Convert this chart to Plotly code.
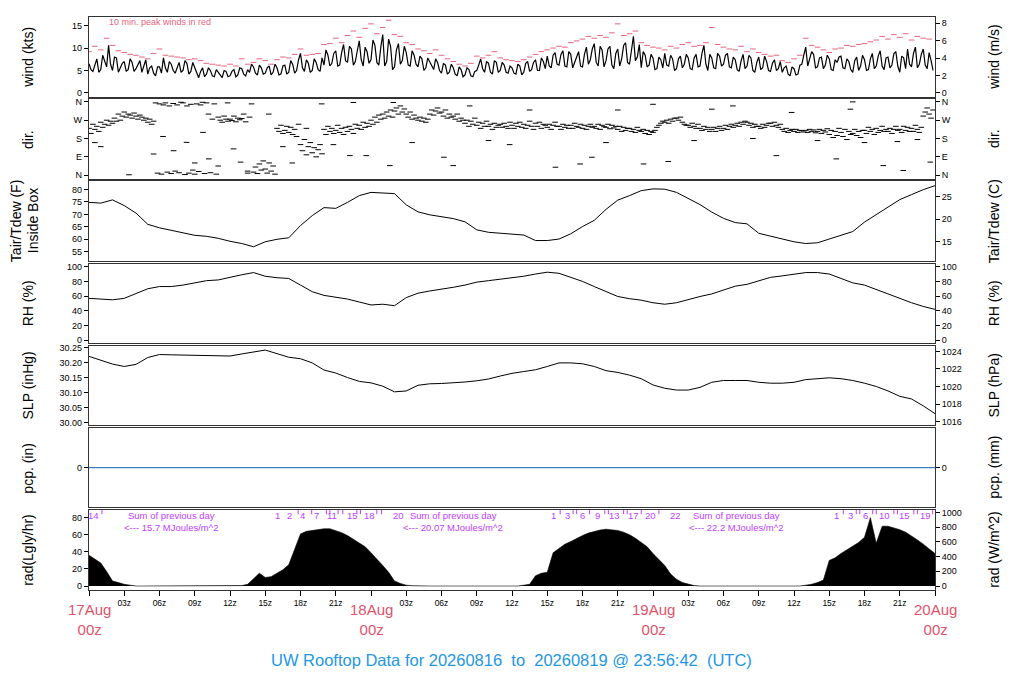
"""UW rooftop station: 3-day multi-panel plot (wind, direction, temperature,
RH, pressure, precipitation, solar radiation), redrawn with Plotly.
"""

import plotly.graph_objects as go

FONT = "Liberation Sans, Arial, sans-serif"
RED = "#DF536B"
PINK = "#E8647E"
PURPLE = "#BF3EFF"
BLUE = "#2297E6"
FRAME = "#333333"

# time axis: hours since 17 Aug 00z
WIND_STEP = 1 / 3   # wind speed, two interleaved 20-min series (10-min apart)
PEAK_STEP = 0.5     # 10-min peak, plotted every half hour
DIR_STEP = 1 / 6    # 10-min direction
RAD_STEP = 0.5

wind_kts_a = [
    6.5, 4.8, 7.6, 5.2, 7.0, 10.6, 5.0, 7.8, 5.6, 7.0, 5.2, 6.8, 5.4, 7.2, 5.8, 4.2, 6.0, 3.8,
    5.8, 7.8, 4.6, 6.4, 4.4, 6.8, 5.0, 6.6, 4.8, 5.8, 3.4, 5.6, 4.2, 5.0, 3.6, 4.6, 3.4, 4.8,
    3.8, 5.2, 4.0, 5.4, 3.8, 4.6, 5.8, 4.0, 5.6, 4.4, 6.0, 4.6, 5.6, 4.2, 6.2, 4.6, 6.4, 5.0,
    8.8, 4.8, 6.6, 5.0, 6.8, 4.8, 6.2, 8.4, 6.6, 9.4, 6.2, 10.8, 6.8, 9.8, 7.0, 11.6, 6.0, 9.2,
    7.4, 10.6, 6.2, 13.0, 7.0, 10.4, 5.8, 11.0, 7.2, 9.0, 6.0, 8.4, 5.8, 7.6, 5.6, 7.0, 5.2, 6.8,
    4.4, 6.2, 4.6, 5.6, 3.8, 5.2, 4.0, 5.2, 3.6, 5.0, 7.6, 4.6, 6.6, 4.2, 6.8, 5.0, 6.2, 4.4,
    5.6, 4.2, 6.0, 4.6, 7.0, 5.2, 7.4, 5.0, 7.0, 8.2, 5.6, 9.0, 6.2, 9.4, 5.8, 8.6, 6.6, 9.2,
    5.8, 10.2, 7.4, 11.0, 6.0, 9.6, 7.2, 10.4, 5.4, 9.8, 7.6, 11.2, 6.4, 12.6, 8.0, 5.6, 8.4, 6.2,
    7.8, 5.4, 7.4, 8.8, 6.0, 7.6, 5.4, 8.2, 6.4, 7.8, 5.2, 8.6, 6.0, 10.6, 5.0, 7.8, 5.4, 8.2,
    6.4, 8.8, 5.6, 7.4, 4.8, 8.6, 6.0, 7.8, 4.6, 8.0, 5.6, 7.0, 4.8, 7.4, 5.4, 4.6, 6.0, 3.8,
    5.4, 4.2, 6.4, 10.2, 7.4, 8.6, 5.8, 8.0, 6.2, 7.6, 5.0, 6.8, 8.2, 5.4, 7.0, 4.6, 8.0, 6.0,
    7.4, 5.2, 8.8, 6.0, 9.4, 5.2, 8.0, 6.2, 9.2, 4.6, 7.8, 9.8, 5.8, 10.2, 6.4, 9.8, 5.4, 7.2,
]
wind_kts_b = [
    5.2, 6.2, 4.6, 8.4, 5.8, 6.4, 8.0, 4.6, 6.6, 4.8, 7.6, 4.8, 6.4, 4.6, 7.4, 5.6, 4.4, 5.8,
    4.4, 5.6, 7.0, 5.0, 5.8, 4.6, 7.2, 4.2, 6.8, 4.4, 4.8, 3.6, 5.6, 3.8, 5.2, 3.8, 5.0, 3.6,
    4.8, 3.6, 5.6, 4.2, 5.2, 6.4, 4.4, 6.2, 4.2, 5.6, 4.0, 6.4, 4.0, 6.0, 4.2, 7.2, 4.4, 7.4,
    5.6, 7.4, 4.6, 7.6, 5.2, 7.8, 9.6, 6.0, 8.8, 6.0, 9.0, 7.2, 10.4, 6.2, 9.4, 7.4, 10.2, 6.6,
    11.8, 6.8, 10.2, 6.0, 12.0, 5.2, 9.6, 6.4, 10.4, 6.2, 9.4, 6.4, 8.2, 5.0, 7.8, 6.0, 7.6, 5.0,
    6.6, 4.2, 6.4, 4.2, 5.8, 3.6, 5.6, 3.8, 4.8, 6.2, 5.4, 7.0, 4.6, 7.2, 4.6, 6.8, 4.6, 6.0,
    4.4, 6.4, 4.0, 6.6, 4.8, 6.8, 5.0, 7.8, 5.4, 6.0, 8.4, 6.4, 8.6, 6.0, 9.2, 5.6, 8.0, 6.0,
    8.6, 6.4, 9.8, 6.8, 10.4, 5.8, 9.8, 6.2, 8.8, 6.0, 10.6, 6.8, 10.2, 7.2, 10.8, 9.2, 5.8, 8.6,
    5.2, 8.0, 5.6, 6.2, 8.4, 5.0, 7.6, 5.6, 8.6, 5.4, 7.8, 5.8, 8.8, 6.4, 8.6, 5.6, 8.8, 6.0,
    8.4, 5.8, 8.0, 5.2, 7.2, 5.4, 8.4, 5.0, 6.8, 5.2, 8.2, 5.0, 6.6, 5.0, 7.0, 5.6, 4.2, 5.8,
    4.0, 6.2, 8.4, 6.0, 9.2, 5.6, 7.8, 5.4, 8.4, 5.2, 7.4, 8.0, 5.6, 7.6, 5.2, 7.2, 5.0, 8.4,
    5.0, 7.6, 5.4, 8.2, 6.0, 7.8, 5.6, 8.8, 6.0, 8.2, 5.4, 6.4, 8.8, 5.6, 8.6, 6.2, 9.0, 5.0,
]

peak_kts = [
    9.2, 10.4, 9.6, 12.2, 10.6, 9.4, 9.0, 8.6, 8.4, 8.0, 7.6, 8.8,
    9.8, 8.4, 8.2, 8.0, 7.8, 7.4, 7.6, 7.2, 6.6, 6.4, 6.2, 6.0,
    6.4, 6.0, 7.6, 6.4, 6.8, 7.6, 7.2, 6.4, 7.4, 8.0, 7.8, 8.6,
    9.8, 8.4, 8.6, 8.8, 10.8, 11.0, 12.2, 11.2, 12.8, 13.8, 12.4, 14.4,
    15.4, 13.2, 14.6, 16.2, 13.0, 12.6, 11.2, 10.8, 9.8, 9.4, 8.8, 9.6,
    8.4, 7.6, 7.0, 6.4, 6.0, 6.6, 8.2, 7.8, 8.4, 9.2, 7.8, 7.4,
    7.2, 7.0, 7.4, 8.0, 8.6, 9.2, 9.6, 10.0, 10.4, 10.2, 11.2, 11.6,
    12.0, 12.6, 12.2, 12.8, 12.4, 13.4, 15.4, 12.8, 13.2, 13.8, 11.2, 10.6,
    10.2, 10.0, 9.6, 10.4, 10.0, 10.8, 11.2, 10.4, 10.6, 11.2, 14.6, 10.8,
    10.2, 9.8, 9.6, 10.4, 9.2, 9.8, 9.0, 8.6, 8.2, 8.4, 7.2, 6.8,
    7.6, 8.4, 12.2, 10.6, 10.2, 9.6, 9.0, 9.8, 10.0, 10.6, 10.4, 10.8,
    11.0, 11.4, 11.8, 12.6, 12.0, 13.0, 12.4, 13.2, 11.8, 12.6, 12.2, 12.0,
]

wind_dir = [
    230, 205, 250, 225, 240, 215, 260, 235, 250, 270, 245, 265, 255, 280, 265, 300, 270, 290,
    310, 285, 300, 295, 280, 305, 290, 275, 295, 285, 270, 280, 260, 275, 250, 265, 355, 10,
    350, 5, 345, 355, 15, 340, 8, 352, 20, 345, 12, 358, 355, 3, 340, 10, 348, 25,
    5, 350, 18, 345, 358, 8, 355, 300, 12, 275, 350, 5, 285, 270, 260, 290, 275, 265,
    275, 268, 290, 262, 280, 272, 278, 300, 262, 10, 285, 350, 15, 40, 8, 55, 25, 70,
    30, 10, 60, 20, 45, 5, 230, 215, 245, 205, 220, 240, 210, 235, 200, 225, 190, 250,
    150, 120, 175, 100, 140, 160, 110, 135, 90, 125, 150, 105, 225, 200, 240, 215, 230, 205,
    220, 245, 210, 230, 200, 235, 215, 240, 225, 205, 250, 230, 245, 225, 260, 235, 255, 240,
    270, 250, 285, 260, 295, 275, 300, 280, 310, 290, 320, 285, 315, 330, 300, 340, 310, 325,
    300, 285, 310, 275, 295, 280, 270, 285, 265, 280, 260, 275, 300, 320, 295, 315, 330, 305,
    310, 290, 320, 280, 300, 285, 290, 275, 300, 265, 280, 270, 255, 270, 240, 265, 250, 280,
    245, 260, 230, 255, 240, 265, 240, 250, 225, 255, 235, 245, 250, 235, 255, 240, 230, 260,
    245, 230, 255, 240, 260, 235, 250, 230, 245, 265, 240, 225, 255, 240, 260, 230, 250, 245,
    235, 250, 225, 245, 260, 240, 240, 225, 250, 235, 245, 230, 245, 230, 255, 240, 235, 250,
    230, 245, 225, 240, 250, 235, 240, 230, 250, 225, 245, 238, 235, 250, 228, 245, 232, 240,
    225, 240, 215, 235, 220, 230, 230, 215, 225, 210, 235, 220, 215, 225, 205, 220, 200, 215,
    210, 220, 235, 245, 255, 265, 260, 270, 255, 275, 265, 280, 280, 270, 285, 260, 250, 245,
    245, 235, 255, 240, 230, 250, 230, 220, 240, 225, 235, 215, 225, 235, 215, 230, 240, 220,
    230, 245, 225, 240, 250, 235, 245, 255, 240, 260, 250, 265, 260, 245, 255, 235, 250, 240,
    240, 230, 250, 235, 245, 255, 255, 240, 260, 245, 235, 250, 225, 215, 230, 210, 220, 225,
    215, 225, 210, 220, 218, 212, 220, 210, 225, 215, 222, 208, 215, 225, 205, 220, 212, 228,
    200, 220, 185, 215, 195, 230, 210, 190, 225, 175, 215, 200, 205, 225, 195, 215, 185, 220,
    220, 205, 235, 215, 225, 200, 230, 210, 220, 240, 215, 225, 215, 230, 205, 225, 240, 220,
    225, 210, 240, 220, 235, 215, 230, 215, 245, 225, 210, 235, 290, 310, 330, 300, 280, 320,
]

# stray direction readings off the main band
dir_extra_t = [0.5, 1.0, 3.4, 5.5, 6.3, 7.2, 8.3, 9.0, 9.7, 10.2, 11.0, 11.8, 12.3, 12.9,
               13.5, 15.3, 16.5, 17.3, 18.5, 19.8, 20.8, 22.2, 22.5, 23.6, 25.6, 25.9, 27.5,
               30.2, 31.0, 32.4, 34.0, 35.8, 37.5, 39.7, 41.8, 42.8, 44.0, 45.0, 47.2, 48.0,
               49.3, 51.5, 53.0, 54.8, 56.5, 58.5, 59.8, 62.0, 63.6, 64.8, 65.0, 66.0, 67.6,
               68.8, 69.3, 70.5, 71.6]
dir_extra = [160, 140, 2, 104, 190, 120, 161, 60, 210, 80, 45, 355, 129, 64,
             20, 300, 140, 60, 230, 350, 150, 96, 357, 96, 47, 357, 160,
             88, 47, 340, 170, 150, 320, 39, 55, 88, 160, 320, 55, 348,
             67, 170, 324, 340, 180, 96, 308, 170, 80, 324, 360, 160, 47,
             165, 23, 175, 64]

# hourly, 17Aug 00z .. 20Aug 00z
tair_f = [74.8, 74.5, 75.8, 73.5, 70.5, 66.0, 64.6, 63.6, 62.6, 61.6, 61.2, 60.4, 59.2,
          58.3, 57.0, 59.0, 60.0, 60.6, 65.5, 69.5, 72.7, 72.4, 74.8, 77.5, 78.8, 78.4,
          78.3, 73.8, 71.0, 69.8, 69.2, 68.3, 67.0, 63.8, 62.8, 62.4, 62.0, 61.7, 59.5,
          59.5, 60.1, 62.2, 65.1, 67.6, 72.0, 75.7, 77.5, 79.5, 80.2, 80.1, 78.8, 76.3,
          73.9, 70.9, 68.4, 66.7, 66.2, 62.4, 61.2, 60.3, 59.0, 58.3, 58.6, 60.1, 61.7,
          63.1, 66.9, 69.8, 73.0, 75.9, 77.9, 79.9, 81.5]

rh_pct = [57, 56, 55, 57, 63, 70, 73, 73, 75, 78, 81, 82, 86, 89, 92, 87, 85, 84, 75,
          66, 61, 59, 56, 52, 48, 49, 47, 58, 64, 67, 69, 72, 75, 79, 81, 83, 84,
          87, 90, 92.5, 91, 86, 80, 73, 66, 59.5, 56.5, 54.5, 51, 49, 51, 55.5, 59.5,
          63, 68, 73.5, 76, 81, 85.5, 87.5, 90, 92, 92, 90, 84, 78, 75, 69, 62, 57,
          51, 46, 42]

slp_inhg = [30.222, 30.208, 30.196, 30.188, 30.195, 30.218, 30.228, 30.227, 30.226,
            30.227, 30.225, 30.224, 30.223, 30.230, 30.236, 30.243, 30.231, 30.219,
            30.214, 30.200, 30.176, 30.166, 30.151, 30.138, 30.133, 30.122, 30.103,
            30.106, 30.125, 30.130, 30.131, 30.133, 30.136, 30.140, 30.146, 30.156,
            30.165, 30.171, 30.177, 30.188, 30.200, 30.200, 30.197, 30.188, 30.174,
            30.168, 30.159, 30.147, 30.126, 30.115, 30.109, 30.109, 30.118, 30.135,
            30.141, 30.141, 30.141, 30.135, 30.132, 30.132, 30.135, 30.144, 30.147,
            30.150, 30.147, 30.141, 30.132, 30.121, 30.106, 30.088, 30.079, 30.056,
            30.030]

pcp_t = [0.0, 72.0]
pcp_in = [0.0, 0.0]

# half-hourly solar radiation, Langley/hr
rad_ly = [
    36, 32, 27, 17, 6, 4, 2, 1, 0,
    0, 0, 0, 0, 0, 0, 0, 0, 0, 0, 0, 0, 0, 0, 0, 0,
    0, 0.5, 2, 9, 15, 10, 11, 15, 19, 25, 44, 61, 64, 65, 66, 67, 67, 65, 62.5, 59, 55,
    51, 46, 39, 32, 24, 16, 6, 3, 1, 0.3,
    0, 0, 0, 0, 0, 0, 0, 0, 0, 0, 0, 0, 0, 0, 0, 0, 0, 0,
    1, 2, 12, 15, 16, 39, 44, 49, 52, 56, 59, 62, 64, 65.5, 66.5, 66, 65, 63, 60, 56,
    51, 46, 38, 31, 24, 14, 8, 4, 2, 0.5,
    0, 0, 0, 0, 0, 0, 0, 0, 0, 0, 0, 0, 0, 0, 0, 0, 0, 0,
    1, 2, 4, 7, 30, 33, 38, 42, 47, 51, 57, 80, 50, 70, 70, 68, 66, 63, 59, 54, 49, 44, 38,
]

# daily radiation annotations
mj_labels = ["14", "1", "2", "4", "7", "11", "15", "18", "20",
             "1", "3", "6", "9", "13", "17", "20", "22",
             "1", "3", "6", "10", "15", "19"]
mj_label_t = [0.35, 16.0, 17.1, 18.2, 19.4, 20.7, 22.4, 23.9, 26.3,
              39.5, 40.7, 42.0, 43.3, 44.7, 46.3, 47.8, 49.9,
              63.6, 64.8, 66.1, 67.7, 69.4, 71.2]
mj_tick_t = [1.1, 17.8, 18.95, 20.2, 20.5, 21.2, 21.6, 22.8, 23.1, 24.5, 24.9,
             40.1, 41.2, 41.5, 42.6, 43.9, 44.2, 45.5, 45.8, 47.0, 48.5,
             64.2, 65.3, 65.6, 66.7, 67.0, 68.5, 68.8, 70.2, 70.5, 71.8]
day_totals = ["15.7", "20.07", "22.2"]
day_total_t = [7.0, 31.0, 55.1]

day_ticks = [0, 24, 48, 72]
day_labels = ["17Aug", "18Aug", "19Aug", "20Aug"]
hour_ticks = list(range(0, 73, 3))

DIR_LABELS = ["N", "E", "S", "W", "N"]

# pixel geometry of the original page (the html body adds an 8 px offset)
PAGE_OFF = 8
LEFT, RIGHT, TOP, BOTTOM = 89, 935, 14, 590
PANEL_H, PANEL_STEP = 80, 82.6


def xpaper(px):
    return (px - LEFT) / (RIGHT - LEFT)


def ypaper(py):
    return (BOTTOM - py) / (BOTTOM - TOP)


def ax(prefix, n):
    return prefix if n == 1 else f"{prefix}{n}"


def note(text, x, y, size, color, xref="paper", angle=0, xanchor="center", yanchor="middle"):
    return dict(text=text, x=x, y=y, xref=xref, yref="paper", textangle=angle,
                xanchor=xanchor, yanchor=yanchor, showarrow=False,
                font=dict(family=FONT, size=size, color=color))


PANELS = [
    dict(left=["wind (kts)"], right="wind (m/s)", rng=[-0.82, 16.93], ticks=[0, 5, 10, 15],
         conv=lambda v: v / 1.94384, rticks=[0, 2, 4, 6, 8]),
    dict(left=["dir."], right="dir.", rng=[-17.6, 373.2], ticks=[0, 90, 180, 270, 360],
         labels=DIR_LABELS, conv=lambda v: v, rticks=[0, 90, 180, 270, 360], rlabels=DIR_LABELS),
    dict(left=["Tair/Tdew (F)", "Inside Box"], right="Tair/Tdew (C)", rng=[51.33, 83.23],
         ticks=[55, 60, 65, 70, 75, 80], conv=lambda v: (v - 32) / 1.8, rticks=[15, 20, 25]),
    dict(left=["RH (%)"], right="RH (%)", rng=[-3.8, 104.3], ticks=[0, 20, 40, 60, 80, 100],
         conv=lambda v: v, rticks=[0, 20, 40, 60, 80, 100]),
    dict(left=["SLP (inHg)"], right="SLP (hPa)", rng=[29.991, 30.2577],
         ticks=[30.0, 30.05, 30.1, 30.15, 30.2, 30.25], fmt=".2f",
         conv=lambda v: v * 33.8639, rticks=[1016, 1018, 1020, 1022, 1024]),
    dict(left=["pcp. (in)"], right="pcp. (mm)", rng=[-1, 1], ticks=[0],
         conv=lambda v: v * 25.4, rticks=[0]),
    dict(left=["rad(Lgly/hr)"], right="rad (W/m^2)", rng=[-4.19, 88.97],
         ticks=[0, 20, 40, 60, 80], conv=lambda v: v * 11.622,
         rticks=[0, 200, 400, 600, 800, 1000]),
]


def build_figure():
    fig = go.Figure()
    n_panels = len(PANELS)
    tick_font = dict(family=FONT, size=9, color="black")
    layout = dict(
        width=1024 - PAGE_OFF, height=700 - PAGE_OFF,
        margin=dict(l=LEFT - PAGE_OFF, r=1024 - RIGHT, t=TOP - PAGE_OFF, b=700 - BOTTOM,
                    pad=0),
        plot_bgcolor="white", paper_bgcolor="white",
        showlegend=False, hovermode=False,
        font=dict(family=FONT, size=9, color="black"),
    )
    annotations = []

    for i, p in enumerate(PANELS):
        n = i + 1
        top = TOP + i * PANEL_STEP
        dom = [ypaper(top + PANEL_H), ypaper(top)]
        xa = dict(domain=[0, 1], range=[0, 72], anchor=ax("y", n), showline=True, mirror=True,
                  linecolor=FRAME, linewidth=1.2, showgrid=False, zeroline=False,
                  showticklabels=False, ticks="")
        if n > 1:
            xa["matches"] = "x"
        if n == n_panels:
            xa.update(ticks="outside", ticklen=5, tickcolor="black", showticklabels=True,
                      tickvals=hour_ticks,
                      ticktext=["" if h % 24 == 0 else f"{h % 24:02d}z" for h in hour_ticks],
                      tickfont=dict(family=FONT, size=8.5, color="black"))
        layout["xaxis" if n == 1 else f"xaxis{n}"] = xa

        ya = dict(domain=dom, range=p["rng"], anchor=ax("x", n), showline=True, mirror=True,
                  linecolor=FRAME, linewidth=1.2, showgrid=False, zeroline=False,
                  ticks="outside", ticklen=4, tickcolor="black", tickvals=p["ticks"],
                  tickfont=tick_font)
        if "labels" in p:
            ya["ticktext"] = p["labels"]
        if "fmt" in p:
            ya["tickformat"] = p["fmt"]
        layout["yaxis" if n == 1 else f"yaxis{n}"] = ya

        rn = n + n_panels
        ra = dict(range=[p["conv"](v) for v in p["rng"]], overlaying=ax("y", n),
                  anchor=ax("x", n), side="right", showline=False, showgrid=False,
                  zeroline=False, ticks="outside", ticklen=4, tickcolor="black",
                  tickvals=p["rticks"], tickfont=tick_font)
        if "rlabels" in p:
            ra["ticktext"] = p["rlabels"]
        layout[f"yaxis{rn}"] = ra
        fig.add_trace(go.Scatter(x=[0], y=[None], xaxis=ax("x", n), yaxis=f"y{rn}",
                                 hoverinfo="skip", showlegend=False))

        mid = ypaper(top + PANEL_H / 2)
        # two-line title (temperature) sits further left
        lxs = [16, 33] if len(p["left"]) == 2 else [28]
        for txt, lx in zip(p["left"], lxs):
            annotations.append(note(txt, xpaper(lx), mid, 14, "black", angle=-90))
        annotations.append(note(p["right"], xpaper(994), mid, 14, "black", angle=-90))

    # wind speed: interleave the two 20-min series into one 10-min trace
    wind_kts = [v for pair in zip(wind_kts_a, wind_kts_b) for v in pair]
    fig.add_trace(go.Scatter(x=[k * WIND_STEP / 2 for k in range(len(wind_kts))], y=wind_kts,
                             mode="lines", line=dict(color="black", width=1.2),
                             xaxis="x", yaxis="y"))
    fig.add_trace(go.Scatter(x=[k * PEAK_STEP for k in range(len(peak_kts))], y=peak_kts,
                             mode="markers", xaxis="x", yaxis="y",
                             marker=dict(symbol="line-ew", size=4,
                                         line=dict(color=PINK, width=1))))
    # wind direction
    fig.add_trace(go.Scatter(x=[k * DIR_STEP for k in range(len(wind_dir))] + dir_extra_t,
                             y=wind_dir + dir_extra, mode="markers", xaxis="x2", yaxis="y2",
                             marker=dict(symbol="line-ew", size=4,
                                         line=dict(color="black", width=1))))
    hours = list(range(len(tair_f)))
    fig.add_trace(go.Scatter(x=hours, y=tair_f, mode="lines", xaxis="x3", yaxis="y3",
                             line=dict(color="black", width=1)))
    fig.add_trace(go.Scatter(x=hours, y=rh_pct, mode="lines", xaxis="x4", yaxis="y4",
                             line=dict(color="black", width=1)))
    fig.add_trace(go.Scatter(x=hours, y=slp_inhg, mode="lines", xaxis="x5", yaxis="y5",
                             line=dict(color="black", width=1)))
    fig.add_trace(go.Scatter(x=pcp_t, y=pcp_in, mode="lines", xaxis="x6", yaxis="y6",
                             line=dict(color="#3A7DC4", width=1.2)))
    fig.add_trace(go.Scatter(x=[k * RAD_STEP for k in range(len(rad_ly))], y=rad_ly,
                             mode="lines", fill="tozeroy", fillcolor="black",
                             line=dict(color="black", width=0.6), xaxis="x7", yaxis="y7"))
    # little hour marks along the top of the radiation panel
    fig.add_trace(go.Scatter(x=mj_tick_t, y=[86.5] * len(mj_tick_t), mode="markers",
                             xaxis="x7", yaxis="y7",
                             marker=dict(symbol="line-ns", size=3,
                                         line=dict(color=PURPLE, width=1))))

    for txt, t in zip(mj_labels, mj_label_t):
        annotations.append(note(txt, t, ypaper(515), 9.5, PURPLE, xref="x7"))
    for tot, t in zip(day_totals, day_total_t):
        annotations.append(note("Sum of previous day", t, ypaper(515), 9.5, PURPLE, xref="x7"))
        annotations.append(note(f"&lt;--- {tot} MJoules/m^2", t, ypaper(527), 9.5, PURPLE,
                                xref="x7"))

    annotations.append(note("10 min. peak winds in red", xpaper(107), ypaper(19), 9, PINK,
                            xanchor="left"))

    for lab, t in zip(day_labels, day_ticks):
        annotations.append(note(f"{lab}<br>00z", t, ypaper(599), 15, RED, xref="x7",
                                yanchor="top"))

    annotations.append(note(
        "UW Rooftop Data for 20260816\u00a0 to\u00a0 20260819 @ 23:56:42\u00a0 (UTC)",
        xpaper(511), ypaper(660), 16.5, BLUE))

    layout["annotations"] = annotations
    fig.update_layout(**layout)
    return fig


def main():
    fig = build_figure()
    fig.write_html("out.html")


if __name__ == "__main__":
    main()
